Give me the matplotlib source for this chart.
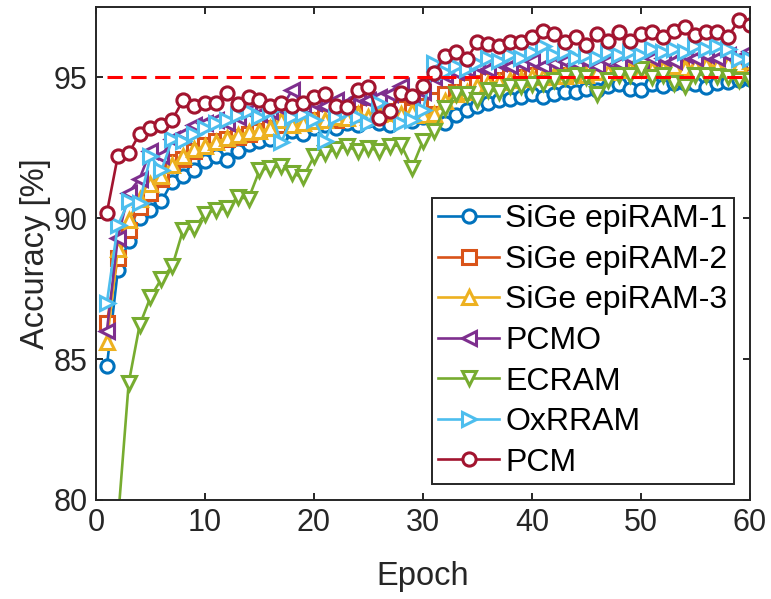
import numpy as np
import matplotlib
matplotlib.use("Agg")
import matplotlib.pyplot as plt

# Data
epochs = np.arange(1, 61)

sige1 = [84.75, 88.15, 89.2, 90.0, 90.3, 90.6, 91.3, 91.5, 91.7, 92.05,
         92.2, 92.07, 92.4, 92.65, 92.75, 92.8, 92.95, 93.1, 93.0, 93.2,
         93.3, 93.2, 93.4, 93.3, 93.5, 93.4, 93.3, 93.55, 93.45, 93.6,
         93.4, 93.4, 93.65, 93.85, 94.0, 94.1, 94.2, 94.25, 94.3, 94.4,
         94.3, 94.4, 94.5, 94.5, 94.6, 94.55, 94.7, 94.75, 94.6, 94.55,
         94.75, 94.7, 94.8, 94.8, 94.75, 94.65, 94.8, 94.85, 94.9, 94.95]
sige2 = [86.3, 88.6, 89.6, 90.4, 90.9, 91.4, 92.0, 92.1, 92.4, 92.6,
         92.75, 92.8, 92.9, 93.0, 93.1, 93.2, 93.3, 93.4, 93.4, 93.5,
         93.6, 93.5, 93.7, 93.7, 93.8, 93.7, 93.8, 93.9, 93.8, 94.0,
         94.2, 94.4, 94.5, 94.7, 94.8, 94.9, 94.9, 95.0, 95.0, 95.1,
         95.1, 95.2, 95.1, 95.2, 95.2, 95.25, 95.25, 95.3, 95.35, 95.3,
         95.35, 95.35, 95.4, 95.35, 95.4, 95.45, 95.4, 95.5, 95.45, 95.55]
sige3 = [85.6, 88.9, 89.95, 90.7, 91.2, 91.5, 91.9, 92.2, 92.45, 92.55,
         92.7, 92.85, 92.95, 93.05, 93.1, 93.2, 93.5, 93.3, 93.4, 93.45,
         93.5, 93.6, 93.55, 93.7, 93.6, 93.7, 93.75, 93.7, 93.8, 93.65,
         93.7, 94.15, 94.4, 94.5, 94.7, 94.8, 94.85, 94.9, 94.95, 95.0,
         95.0, 95.1, 95.05, 95.15, 95.1, 95.2, 95.2, 95.25, 95.3, 95.25,
         95.3, 95.35, 95.4, 95.35, 95.4, 95.45, 95.4, 95.5, 95.45, 95.6]
pcmo = [86.0, 89.3, 90.9, 91.4, 92.4, 92.2, 92.8, 93.0, 93.3, 93.4,
        93.5, 93.4, 93.6, 93.8, 93.7, 93.8, 93.9, 94.55, 94.0, 94.1,
        94.0, 94.2, 94.1, 94.3, 94.2, 94.3, 94.4, 94.7, 94.3, 94.5,
        95.0, 95.1, 95.2, 95.3, 95.4, 95.3, 95.5, 95.4, 95.5, 95.6,
        95.4, 95.5, 95.6, 95.5, 95.6, 95.4, 95.6, 95.5, 95.7, 95.6,
        95.7, 95.7, 95.6, 95.8, 95.7, 95.8, 95.7, 95.8, 95.7, 95.95]
ecram = [70.0, 79.2, 84.15, 86.2, 87.2, 87.85, 88.3, 89.6, 89.65, 90.15,
         90.3, 90.35, 90.75, 90.7, 91.7, 91.8, 91.85, 91.6, 91.45, 92.2,
         92.3, 92.45, 92.55, 92.4, 92.5, 92.4, 92.55, 92.6, 91.8, 92.75,
         93.1, 93.9, 94.4, 94.4, 94.2, 94.55, 94.5, 94.7, 94.7, 94.75,
         94.8, 94.9, 95.0, 95.1, 95.0, 94.4, 94.9, 95.1, 95.1, 95.3,
         95.0, 95.1, 94.8, 94.7, 95.1, 95.1, 95.05, 95.0, 94.9, 94.9]
oxrram = [87.0, 89.75, 90.6, 90.55, 92.2, 91.7, 92.8, 92.75, 93.0, 93.2,
          93.4, 93.5, 93.65, 93.8, 93.6, 93.8, 92.7, 93.6, 93.7, 93.5,
          92.75, 93.6, 93.8, 93.6, 93.4, 94.1, 93.8, 93.4, 93.5, 93.85,
          95.5, 95.2, 95.4, 95.3, 95.5, 95.7, 95.6, 95.8, 95.7, 95.9,
          96.1, 95.8, 95.9, 95.7, 95.8, 95.7, 95.9, 95.8, 95.9, 95.8,
          96.0, 95.9, 96.0, 95.9, 96.1, 96.0, 96.1, 96.0, 95.65, 95.65]
pcm = [90.2, 92.2, 92.3, 93.0, 93.2, 93.3, 93.5, 94.2, 94.0, 94.1,
       94.1, 94.45, 94.05, 94.3, 94.2, 94.0, 94.1, 94.0, 94.1, 94.3,
       94.4, 94.0, 93.95, 94.55, 94.65, 93.55, 93.8, 94.45, 94.35, 94.7,
       95.15, 95.75, 95.9, 95.65, 96.25, 96.2, 96.1, 96.25, 96.25, 96.45,
       96.65, 96.55, 96.25, 96.45, 96.15, 96.55, 96.3, 96.6, 96.3, 96.55,
       96.6, 96.42, 96.65, 96.8, 96.5, 96.6, 96.6, 96.45, 97.05, 96.85]
target = 95.0

labels = ["SiGe epiRAM-1", "SiGe epiRAM-2", "SiGe epiRAM-3",
          "PCMO", "ECRAM", "OxRRAM", "PCM"]
series = [sige1, sige2, sige3, pcmo, ecram, oxrram, pcm]
markers = ["o", "s", "^", "<", "v", ">", "o"]
colors = ["#0072BD", "#D95319", "#EDB120", "#7E2F8E",
          "#77AC30", "#4DBEEE", "#A2142F"]

plt.rcParams['font.family'] = ['Liberation Sans', 'DejaVu Sans']
plt.rcParams['font.size'] = 22

fig = plt.figure(figsize=(7.71, 5.99), dpi=100)
ax = fig.add_axes([0.1245, 0.1653, 0.8482, 0.823])

for vals, lab, mk, col in zip(series, labels, markers, colors):
    ax.plot(epochs, vals, color=col, marker=mk, markersize=9.5,
            markerfacecolor="white", markeredgecolor=col,
            markeredgewidth=2.2, linewidth=1.9, label=lab)

ax.plot([epochs[0], epochs[-1]], [target, target], color="red",
        linewidth=2.2, dashes=(5.0, 2.8), zorder=10)

ax.set_xlim(0, 60)
ax.set_ylim(80, 97.5)
ax.set_xticks(np.arange(0, 61, 10))
ax.set_yticks([80, 85, 90, 95])
ax.set_xlabel("Epoch", color="#262626", fontsize=23.5, labelpad=16)
ax.set_ylabel("Accuracy [%]", color="#262626", fontsize=23.5, labelpad=2)

for sp in ax.spines.values():
    sp.set_color("#262626")
    sp.set_linewidth(1.4)
ax.tick_params(direction="in", top=True, right=True, length=5, width=1.4,
               colors="#262626", labelsize=22, pad=6)

leg = ax.legend(loc="lower right", frameon=True, fancybox=False,
                edgecolor="#262626", framealpha=1, fontsize=23,
                handlelength=1.9, handletextpad=0.2, labelspacing=0.33,
                borderpad=0.2, borderaxespad=0.5)
leg.get_frame().set_linewidth(1.4)

fig.savefig("out.png", dpi=100)
